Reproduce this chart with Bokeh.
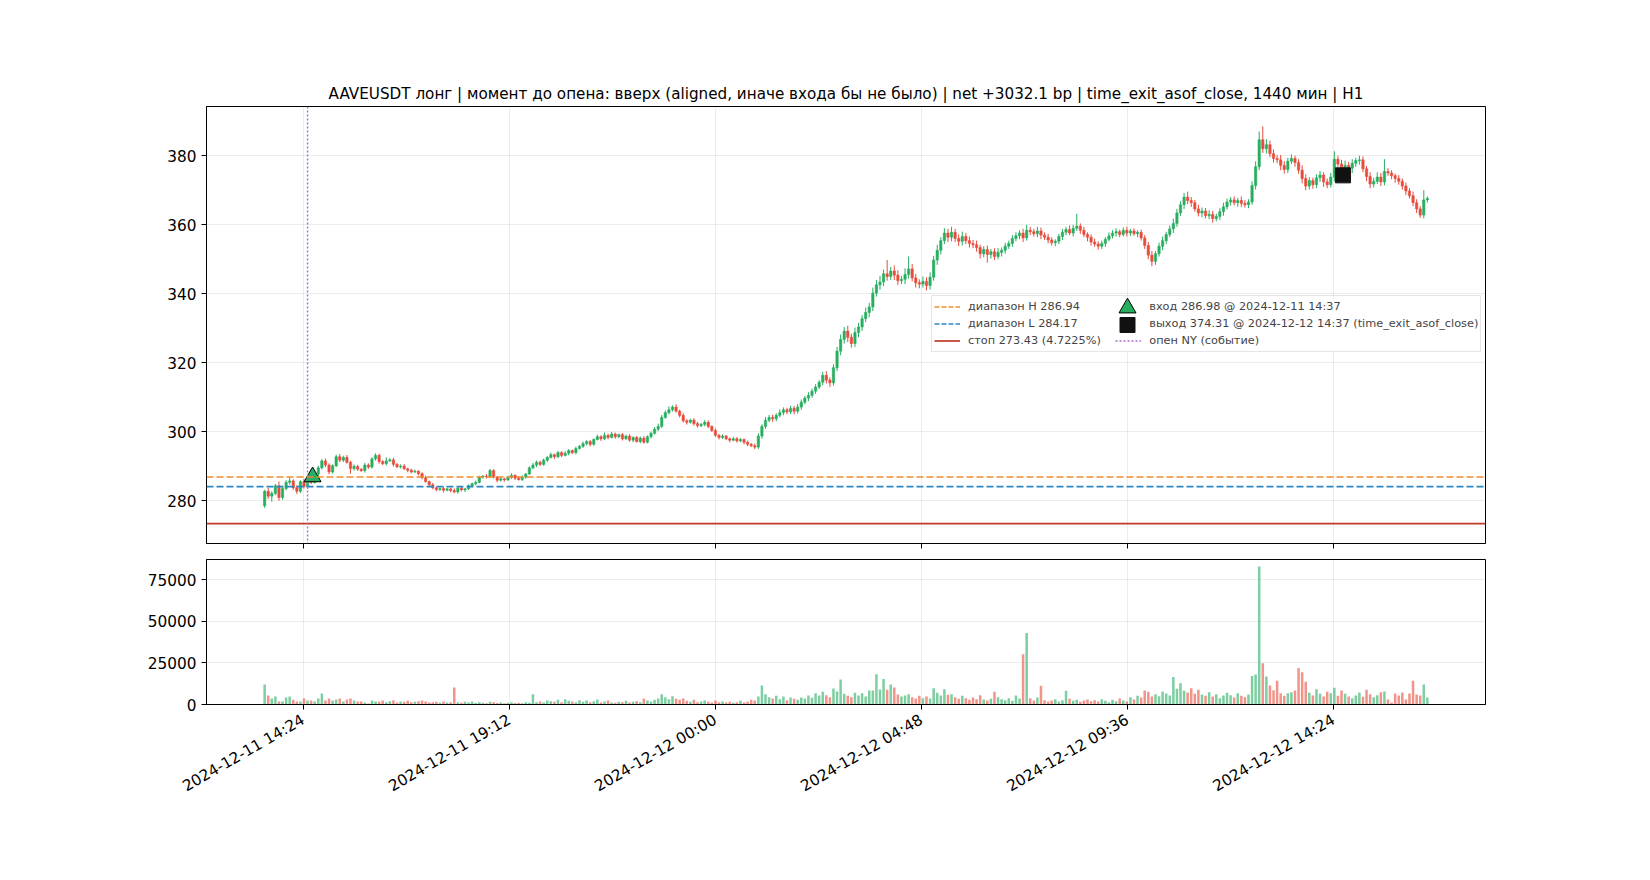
import math
import datetime as dt
import numpy as np
from bokeh.plotting import figure
from bokeh.layouts import column
from bokeh.models import (ColumnDataSource, FixedTicker, DatetimeTickFormatter, Range1d,
                          Legend, LegendItem, NumeralTickFormatter, Span, BoxAnnotation)
from bokeh.embed import file_html
from bokeh.resources import INLINE

chart_title = ("AAVEUSDT лонг | момент до опена: вверх (aligned, иначе входа бы не было) | "
               "net +3032.1 bp | time_exit_asof_close, 1440 мин | H1")

start_time = "2024-12-11 13:30"
bar_minutes = 5
first_open = 278.6

closes = [
    282.8, 281.4, 282.2, 284.4, 281.0, 283.6,                                          # 11th 13:30
    285.4, 285.8, 283.8, 282.8, 285.6, 284.2, 286.0, 285.4, 287.8, 289.6, 291.6, 290.4,  # 14
    288.4, 290.2, 292.8, 291.8, 292.6, 291.2, 289.4, 290.0, 289.2, 288.8, 290.4, 289.8,  # 15
    292.2, 293.2, 291.4, 290.8, 291.6, 291.9, 290.6, 289.9, 290.1, 289.3, 288.9, 288.4,  # 16
    288.6, 287.9, 286.7, 285.6, 284.7, 283.8, 283.3, 283.6, 283.1, 283.5, 283.0, 282.6,  # 17
    283.7, 283.2, 283.5, 284.4, 285.0, 285.4, 286.9, 287.2, 287.0, 288.8, 286.9, 286.0,  # 18
    286.4, 286.1, 286.8, 287.4, 286.6, 286.2, 286.9, 287.8, 289.6, 290.4, 291.2, 290.6,  # 19
    291.8, 292.6, 293.4, 292.8, 294.0, 293.2, 293.8, 294.6, 294.0, 295.2, 295.8, 296.6,  # 20
    297.2, 296.4, 297.8, 298.6, 298.0, 299.0, 298.4, 299.4, 298.6, 299.2, 298.0, 298.8,  # 21
    297.6, 298.4, 297.2, 298.2, 297.0, 298.6, 299.6, 300.8, 301.6, 304.2, 305.6, 306.4,  # 22
    307.2, 306.0, 304.8, 303.2, 302.8, 303.4, 302.4, 301.8, 302.2, 302.8, 301.6, 300.4,  # 23
    299.0, 298.4, 298.8, 298.0, 297.6, 298.0, 297.4, 297.8, 297.0, 296.4, 296.0, 295.6,  # 12th 00
    298.8, 301.6, 303.4, 304.2, 303.8, 304.8, 305.6, 306.4, 305.8, 306.8, 306.0, 307.2,  # 01
    308.6, 309.8, 310.6, 311.8, 313.0, 314.4, 316.4, 315.0, 314.2, 318.6, 323.4, 326.8,  # 02
    329.2, 327.4, 325.6, 328.8, 330.4, 332.8, 334.6, 336.2, 340.2, 342.6, 343.4, 345.8,  # 03
    345.0, 346.6, 345.4, 343.8, 344.2, 345.6, 347.2, 344.6, 343.2, 342.8, 343.6, 342.4,  # 04
    344.8, 349.8, 352.6, 355.4, 357.6, 356.4, 357.8, 356.0, 355.2, 356.6, 355.4, 354.6,  # 05
    354.2, 353.4, 351.6, 352.8, 351.4, 352.2, 350.8, 352.0, 352.6, 353.8, 354.6, 356.0,  # 06
    356.8, 357.6, 356.2, 358.4, 358.0, 357.4, 358.2, 357.0, 356.4, 355.6, 354.8, 355.2,  # 07
    356.6, 357.8, 358.6, 357.6, 359.0, 359.6, 358.4, 357.2, 356.4, 355.0, 354.4, 353.8,  # 08
    354.6, 355.8, 356.8, 357.6, 358.0, 357.2, 358.4, 357.6, 358.2, 357.4, 357.8, 356.2,  # 09
    354.0, 351.2, 349.4, 351.6, 353.8, 355.4, 357.2, 358.8, 360.4, 363.4, 365.8, 368.0,  # 10
    367.0, 366.4, 364.6, 363.4, 364.0, 362.6, 363.0, 361.8, 362.4, 363.8, 365.2, 366.6,  # 11
    367.2, 366.4, 367.0, 366.2, 365.8, 366.6, 371.4, 376.8, 384.6, 382.0, 383.2, 380.6,  # 12
    379.2, 378.8, 377.2, 376.0, 378.4, 379.2, 378.0, 375.8, 373.4, 371.2, 372.8, 371.6,  # 13
    373.6, 374.4, 372.4, 371.6, 373.8, 379.0, 377.6, 375.0, 377.2, 376.4, 377.8, 378.6,  # 14
    378.8, 376.2, 374.0, 371.8, 372.6, 373.8, 372.4, 375.4, 375.0, 374.2, 373.4, 372.6,  # 15
    371.2, 369.8, 368.4, 366.4, 364.6, 362.8, 367.2, 367.6,                              # 16
]

wick_up = [
    0.4, 1.0, 0.6, 0.5, 1.2, 0.8,
    0.6, 0.9, 0.5, 0.7, 0.4, 0.8, 0.5, 1.8, 0.4, 0.6, 0.5, 0.7,
    0.5, 0.4, 0.6, 0.8, 0.5, 0.7, 0.4, 0.6, 0.5, 0.3, 0.6, 0.5,
    0.4, 0.6, 0.5, 0.4, 1.0, 0.5, 0.6, 0.4, 0.5, 0.6, 0.3, 0.4,
    0.5, 0.3, 0.4, 0.6, 0.3, 0.5, 0.4, 0.3, 0.5, 0.4, 0.3, 0.6,
    0.4, 0.5, 0.3, 0.4, 0.3, 0.5, 0.4, 0.3, 0.6, 0.5, 0.4, 0.3,
    0.4, 0.3, 0.5, 0.6, 0.3, 0.4, 0.5, 0.3, 0.4, 0.6, 0.5, 0.4,
    0.5, 0.4, 0.6, 0.3, 0.5, 0.4, 0.6, 0.4, 0.3, 0.5, 0.4, 0.6,
    0.4, 0.5, 0.3, 0.6, 0.4, 0.8, 0.5, 0.6, 0.4, 0.3, 0.5, 0.4,
    0.5, 0.3, 0.4, 0.5, 0.6, 0.4, 0.5, 0.6, 0.8, 0.7, 0.6, 1.0,
    0.5, 0.8, 0.4, 0.6, 0.5, 0.4, 0.6, 0.5, 0.4, 0.6, 0.5, 0.3,
    0.6, 0.4, 0.5, 0.3, 0.4, 0.6, 0.5, 0.4, 0.3, 0.5, 0.4, 0.6,
    0.8, 0.6, 0.9, 0.7, 0.8, 0.6, 0.9, 0.7, 0.6, 0.8, 0.7, 0.9,
    0.8, 0.6, 0.9, 0.7, 0.8, 0.6, 1.0, 1.2, 0.8, 1.0, 1.2, 1.4,
    1.2, 1.6, 1.0, 1.4, 1.2, 1.0, 1.4, 1.2, 1.6, 1.4, 1.8, 1.2,
    4.0, 1.2, 1.6, 1.4, 1.0, 1.8, 3.6, 1.4, 1.2, 1.0, 1.4, 1.2,
    1.4, 1.2, 1.6, 1.0, 1.4, 1.2, 1.6, 1.0, 1.2, 1.4, 1.0, 1.2,
    1.0, 1.2, 0.8, 1.0, 1.2, 0.8, 1.0, 1.2, 0.8, 1.0, 0.8, 1.0,
    1.0, 0.8, 1.2, 1.6, 1.0, 0.8, 1.2, 1.0, 0.8, 1.0, 0.8, 0.6,
    0.8, 1.0, 0.8, 1.2, 1.0, 3.6, 0.8, 1.0, 0.6, 0.8, 1.0, 0.8,
    0.8, 0.6, 1.0, 0.8, 1.0, 0.6, 0.8, 1.0, 0.6, 0.8, 0.6, 0.8,
    0.8, 1.0, 1.2, 0.8, 1.0, 1.2, 0.8, 1.0, 1.4, 1.2, 1.0, 1.2,
    1.6, 1.0, 0.8, 1.2, 1.0, 0.8, 1.2, 1.0, 0.8, 1.0, 1.2, 1.0,
    0.8, 1.0, 0.8, 1.2, 1.0, 0.8, 1.2, 1.6, 2.4, 3.9, 1.6, 1.2,
    1.2, 1.0, 1.4, 1.2, 1.0, 1.2, 0.8, 1.0, 1.4, 1.2, 1.0, 0.8,
    1.0, 1.2, 0.8, 1.0, 1.2, 2.3, 1.0, 1.2, 1.4, 1.0, 1.2, 0.8,
    1.2, 1.0, 0.8, 1.2, 1.0, 1.4, 1.2, 3.6, 1.0, 0.8, 0.6, 1.0,
    0.8, 1.0, 0.8, 1.2, 1.0, 0.8, 2.8, 0.6,
]

wick_dn = [
    0.6, 0.8, 1.6, 0.5, 0.9, 0.6,
    0.5, 0.7, 0.6, 0.8, 0.5, 0.6, 0.7, 0.5, 0.4, 0.6, 0.5, 0.6,
    0.7, 0.5, 0.4, 0.6, 0.5, 0.4, 1.5, 0.6, 0.5, 0.4, 0.6, 0.5,
    0.4, 0.5, 0.6, 0.4, 0.5, 0.3, 0.6, 0.4, 0.5, 0.3, 0.6, 0.4,
    0.3, 0.5, 0.4, 0.3, 0.6, 0.4, 0.5, 0.4, 0.6, 0.3, 0.5, 0.4,
    0.5, 0.4, 0.6, 0.3, 0.4, 0.5, 0.3, 0.4, 0.5, 0.3, 0.4, 0.6,
    0.4, 0.5, 0.3, 0.4, 0.5, 0.3, 0.4, 0.5, 0.3, 0.4, 0.6, 0.5,
    0.4, 0.5, 0.3, 0.6, 0.4, 0.5, 0.3, 0.6, 0.4, 0.5, 0.3, 0.4,
    0.5, 0.6, 0.4, 0.3, 0.6, 0.4, 0.5, 0.3, 0.6, 0.4, 0.5, 0.3,
    0.4, 0.6, 0.3, 0.5, 0.4, 0.3, 0.5, 0.4, 0.6, 0.5, 0.4, 0.6,
    0.5, 0.4, 0.6, 0.5, 0.7, 0.4, 0.6, 0.5, 0.4, 0.6, 0.5, 0.4,
    0.4, 0.6, 0.5, 0.4, 0.6, 0.3, 0.5, 0.4, 0.6, 0.5, 0.4, 0.6,
    0.6, 0.8, 0.7, 0.6, 0.9, 0.7, 0.6, 0.8, 0.7, 0.6, 0.9, 0.7,
    0.8, 0.6, 0.9, 0.7, 0.8, 0.6, 0.9, 1.0, 1.2, 0.8, 1.0, 1.2,
    1.2, 1.4, 1.2, 1.0, 1.4, 1.2, 1.0, 1.4, 1.2, 1.0, 1.4, 1.2,
    1.2, 1.0, 1.4, 1.2, 1.0, 1.4, 1.2, 1.0, 1.4, 1.2, 1.0, 1.4,
    1.2, 1.0, 1.4, 1.2, 1.0, 1.4, 1.2, 1.0, 1.4, 1.2, 1.0, 1.2,
    1.0, 1.2, 1.4, 1.0, 2.4, 1.2, 1.0, 0.8, 1.2, 1.0, 0.8, 1.0,
    0.8, 1.0, 1.2, 0.8, 1.0, 0.8, 1.0, 1.2, 0.8, 1.0, 0.8, 1.0,
    0.8, 1.0, 0.8, 0.6, 1.0, 0.8, 1.0, 0.8, 1.2, 1.0, 0.8, 1.0,
    0.8, 1.0, 0.6, 0.8, 1.0, 0.8, 0.6, 1.0, 0.8, 0.6, 1.0, 0.8,
    1.0, 1.2, 1.4, 1.0, 0.8, 1.2, 1.0, 0.8, 1.2, 1.0, 0.8, 1.2,
    1.0, 1.2, 0.8, 1.0, 1.2, 0.8, 1.0, 1.2, 0.8, 1.0, 1.2, 0.8,
    1.0, 0.8, 1.2, 1.0, 0.8, 1.0, 0.8, 1.2, 1.0, 1.2, 1.4, 1.0,
    1.2, 1.0, 1.4, 1.2, 1.0, 0.8, 1.2, 1.0, 1.4, 1.2, 1.0, 1.2,
    1.0, 1.2, 1.4, 1.0, 0.8, 1.2, 1.0, 0.8, 1.2, 1.0, 1.4, 1.0,
    1.2, 1.0, 1.4, 1.2, 1.0, 0.8, 1.2, 1.0, 0.8, 1.0, 1.2, 1.0,
    1.0, 1.2, 0.8, 1.0, 1.2, 0.8, 1.0, 0.8,
]

volumes = [
    12000, 5400, 3600, 4800, 1800, 1800,
    4200, 4800, 2800, 1800, 1800, 3600, 2400, 2400, 1800, 3600, 6600, 2400,
    3600, 2400, 3000, 3600, 1800, 3000, 3600, 2400, 1800, 1800, 1200, 600,
    2400, 1800, 1600, 2400, 1400, 2000, 2600, 1200, 1800, 1600, 2200, 1400,
    1600, 2000, 2400, 1800, 1200, 1400, 1600, 1000, 1800, 1200, 1400, 10200,
    1400, 1000, 1600, 1200, 1800, 900, 1400, 1100, 800, 1600, 1300, 900,
    1200, 800, 1000, 1400, 900, 1100, 700, 1300, 1000, 6200, 1400, 1800,
    1200, 2400, 2000, 1600, 2800, 1400, 3200, 2200, 1800, 1200, 2600, 1600,
    2400, 1400, 2000, 3000, 1200, 1800, 2400, 1200, 1000, 1600, 1400, 2200,
    1200, 1600, 2000, 1400, 3600, 2400, 1800, 2800, 3600, 6200, 4400, 3200,
    5000, 3400, 2800, 3600, 2200, 1600, 2800, 1400, 1800, 2400, 1600, 1200,
    2400, 1400, 1800, 1200, 1600, 1000, 1400, 2200, 1200, 1600, 2800, 2400,
    4800, 11400, 6200, 4400, 3600, 5200, 3200, 4800, 2600, 4200, 3400, 2800,
    4200, 3600, 5400, 4000, 6800, 5400, 7600, 5600, 4400, 9600, 7800, 15000,
    6400, 5200, 4400, 7000, 5400, 6800, 4800, 8400, 8400, 18200, 9000, 15400,
    8800, 12000, 10200, 6000, 4800, 5400, 6200, 4400, 3600, 5200, 3800, 4800,
    3600, 9800, 7000, 5400, 9200, 5800, 6200, 4400, 3400, 5200, 3800, 2800,
    4200, 3200, 5600, 3000, 2400, 3400, 7600, 4400, 3200, 2600, 3800, 2200,
    5400, 3600, 30200, 43000, 3800, 2400, 4200, 11200, 2600, 1800, 2400, 3200,
    1800, 2600, 8200, 3400, 2200, 2800, 1600, 2400, 3000, 2000, 2600, 1800,
    3200, 2200, 1400, 2800, 2000, 3600, 2400, 1800, 4400, 3000, 5200, 4200,
    8400, 7600, 4800, 6200, 5000, 7800, 6600, 5400, 16600, 9400, 12800, 8200,
    7200, 9800, 6400, 8800, 6000, 5200, 7400, 4800, 6200, 3800, 5400, 7000,
    5600, 4200, 6800, 5200, 4400, 6000, 17200, 18000, 83000, 24800, 16800, 11400,
    8600, 14200, 6800, 5200, 6800, 7400, 8400, 22000, 19400, 13600, 7000, 5400,
    9200, 6400, 4800, 7600, 6800, 10000, 5200, 8400, 6400, 4800, 3800, 5400,
    7200, 4600, 8800, 6200, 4400, 5600, 7400, 7800, 3000, 1200, 6600, 5400,
    7200, 3000, 6600, 14300, 6000, 5400, 12000, 4200,
]

range_high = 286.94
range_low = 284.17
stop_price = 273.43
entry_time = "2024-12-11 14:37"
entry_price = 286.98
exit_time = "2024-12-12 14:37"
exit_price = 374.31
ny_open_time = "2024-12-11 14:30"

legend_labels = [
    "диапазон H 286.94",
    "диапазон L 284.17",
    "стоп 273.43 (4.7225%)",
    "вход 286.98 @ 2024-12-11 14:37",
    "выход 374.31 @ 2024-12-12 14:37 (time_exit_asof_close)",
    "опен NY (событие)",
]

x_tick_labels = ["2024-12-11 14:24", "2024-12-11 19:12", "2024-12-12 00:00",
                 "2024-12-12 04:48", "2024-12-12 09:36", "2024-12-12 14:24"]
price_ticks = [280, 300, 320, 340, 360, 380]
volume_ticks = [0, 25000, 50000, 75000]

# ---------------------------------------------------------------------------
FONT = "DejaVu Sans"
TICK_FS = "15.3px"
UP = "#27ae60"
DOWN = "#e74c3c"
C_H = "#ef8a2e"
C_L = "#2b86c3"
C_STOP = "#c0392b"
C_NY = "#a86ccc"
EPOCH = dt.datetime(1970, 1, 1)


def to_ms(s):
    return (dt.datetime.strptime(s, "%Y-%m-%d %H:%M") - EPOCH).total_seconds() * 1000.0


n = len(closes)
assert len(wick_up) == n and len(wick_dn) == n and len(volumes) == n
bar_ms = bar_minutes * 60 * 1000.0
x = np.array([to_ms(start_time) + k * bar_ms for k in range(n)])
c = np.array(closes)
o = np.array([first_open] + closes[:-1])
body_top = np.maximum(o, c)
body_bot = np.minimum(o, c)
high = body_top + np.array(wick_up)
low = body_bot - np.array(wick_dn)
colors = [UP if cc >= oo else DOWN for oo, cc in zip(o, c)]

src = ColumnDataSource(dict(x=x, top=body_top, bottom=body_bot, high=high, low=low,
                            color=colors, vol=volumes))

span_x = x[-1] - x[0]
x0r, x1r = x[0] - 0.05 * span_x, x[-1] + 0.05 * span_x
x_range = Range1d(x0r, x1r)
lo = min(low.min(), stop_price)
hi = high.max()
pad = 0.05 * (hi - lo)
y0r, y1r = lo - pad, hi + pad
y_range = Range1d(y0r, y1r)

x_ticks = [to_ms(s) for s in x_tick_labels]
fmt = "%Y-%m-%d %H:%M"
dt_formatter = DatetimeTickFormatter(
    microseconds=fmt, milliseconds=fmt, seconds=fmt, minsec=fmt, minutes=fmt,
    hourmin=fmt, hours=fmt, days=fmt, months=fmt, years=fmt, strip_leading_zeros=False)

FRAME_W = 1279
FRAME_H = 437
LEFT = 206
RIGHT = 150


def style_axes(fig):
    for ax in (fig.xaxis[0], fig.yaxis[0]):
        ax.axis_line_color = "black"
        ax.major_tick_line_color = "black"
        ax.major_tick_out = 5
        ax.major_tick_in = 0
        ax.minor_tick_out = 0
        ax.minor_tick_in = 0
        ax.major_label_text_font = FONT
        ax.major_label_text_font_size = TICK_FS
        ax.major_label_text_color = "black"
        ax.major_label_standoff = 5
    fig.outline_line_color = "black"
    fig.outline_line_width = 1
    fig.outline_line_alpha = 1
    for g in (fig.xgrid[0], fig.ygrid[0]):
        g.grid_line_color = "#b0b0b0"
        g.grid_line_alpha = 0.3
        g.grid_line_width = 0.8
    fig.background_fill_color = "white"
    fig.border_fill_color = "white"


def px_to_x(px):          # frame px from left -> data x
    return x0r + px / FRAME_W * (x1r - x0r)


def px_to_y(px):          # frame px from top -> data y
    return y1r - px / FRAME_H * (y1r - y0r)


# ---------------- main price panel ----------------
p = figure(x_axis_type="datetime", x_range=x_range, y_range=y_range,
           frame_width=FRAME_W, frame_height=FRAME_H,
           min_border_left=LEFT, min_border_right=RIGHT, min_border_top=106, min_border_bottom=16,
           output_backend="svg", toolbar_location=None, title=chart_title)
p.title.text_font = FONT
p.title.text_font_size = "15.2px"
p.title.text_font_style = "normal"
p.title.align = "center"
p.title.text_color = "black"
p.title.standoff = 8
style_axes(p)
p.xaxis[0].ticker = FixedTicker(ticks=x_ticks)
p.xaxis[0].major_label_overrides = {t: "" for t in x_ticks}
p.xaxis[0].major_label_text_font_size = "1px"
p.xaxis[0].major_label_standoff = 0
p.yaxis[0].ticker = FixedTicker(ticks=price_ticks)

# legend geometry (screen px, relative to the price frame)
NBSP = "\u00a0"
LEG_X, LEG_Y = 725, 191          # legend bottom-left, px from frame bottom-left
LEG_PAD, ROW_H, GLYPH_W, STANDOFF = 2, 17, 26, 8
COL1_W = GLYPH_W + STANDOFF + 147
LEG_W = 552
LEG_H = 2 * LEG_PAD + 3 * ROW_H
leg_top_px = FRAME_H - (LEG_Y + LEG_H)

# opaque white panel under the legend (hides the grid there, like a legend frame)
p.add_layout(BoxAnnotation(left=px_to_x(LEG_X + 1), right=px_to_x(LEG_X + LEG_W - 1),
                           top=px_to_y(leg_top_px + 1), bottom=px_to_y(leg_top_px + LEG_H - 1),
                           fill_color="white", fill_alpha=1.0, line_alpha=0, level="underlay"))

p.segment(x0="x", y0="low", x1="x", y1="high", line_color="color", line_width=1, source=src)
p.vbar(x="x", width=bar_ms * 0.65, top="top", bottom="bottom", fill_color="color",
       line_color="color", line_width=0.6, source=src)

p.add_layout(Span(location=range_high, dimension="width", line_color=C_H, line_width=1.7,
                  line_dash="7 3"))
p.add_layout(Span(location=range_low, dimension="width", line_color=C_L, line_width=1.7,
                  line_dash="7 3"))
p.add_layout(Span(location=stop_price, dimension="width", line_color=C_STOP, line_width=1.7))
p.add_layout(Span(location=to_ms(ny_open_time), dimension="height", line_color=C_NY,
                  line_width=1.4, line_dash="2 2"))

p.scatter(x=[to_ms(entry_time)], y=[entry_price], marker="triangle", size=17,
          fill_color=UP, line_color="black", line_width=1)
p.scatter(x=[to_ms(exit_time)], y=[exit_price], marker="square", size=15,
          fill_color="#111111", line_color="#111111", line_width=1)

# legend proxies (one point each, draw nothing visible in the plot)
l_h = p.line(x=[x[0]], y=[range_high], line_color=C_H, line_width=1.7, line_dash="5 2")
l_l = p.line(x=[x[0]], y=[range_low], line_color=C_L, line_width=1.7, line_dash="5 2")
l_s = p.line(x=[x[0]], y=[stop_price], line_color=C_STOP, line_width=1.7)
l_ny = p.line(x=[x[0]], y=[range_high], line_color=C_NY, line_width=1.4, line_dash="2 2")
m_in = p.scatter(x=[to_ms(entry_time)], y=[entry_price], marker="triangle", size=1,
                 fill_alpha=0, line_alpha=0)
m_out = p.scatter(x=[to_ms(exit_time)], y=[exit_price], marker="square", size=1,
                  fill_alpha=0, line_alpha=0)

legend = Legend(items=[
    LegendItem(label=legend_labels[0], renderers=[l_h]),
    LegendItem(label=legend_labels[1], renderers=[l_l]),
    LegendItem(label=legend_labels[2] + NBSP * 4, renderers=[l_s]),
    LegendItem(label=legend_labels[3], renderers=[m_in]),
    LegendItem(label=legend_labels[4], renderers=[m_out]),
    LegendItem(label=legend_labels[5], renderers=[l_ny]),
], location=(LEG_X, LEG_Y), orientation="vertical", ncols=2)
legend.label_text_font = FONT
legend.label_text_font_size = "11.3px"
legend.label_height = ROW_H
legend.glyph_height = ROW_H
legend.glyph_width = GLYPH_W
legend.label_standoff = STANDOFF
legend.spacing = 0
legend.padding = LEG_PAD
legend.margin = 0
legend.border_line_color = "#cccccc"
legend.border_line_width = 1
legend.background_fill_alpha = 0
p.add_layout(legend)

# big legend markers in the legend's second column (legend layout -> data units)
mk_x = px_to_x(LEG_X + LEG_PAD + COL1_W + GLYPH_W / 2)
mk_y = [px_to_y(leg_top_px + LEG_PAD + ROW_H * (k + 0.5)) for k in range(2)]
p.scatter(x=[mk_x], y=[mk_y[0]], marker="triangle", size=17, fill_color=UP,
          line_color="black", line_width=1)
p.scatter(x=[mk_x], y=[mk_y[1]], marker="square", size=15, fill_color="#111111",
          line_color="#111111", line_width=1)

# ---------------- volume panel ----------------
v = figure(x_axis_type="datetime", x_range=x_range, y_range=Range1d(0, max(volumes) * 1.05),
           frame_width=FRAME_W, frame_height=145,
           min_border_left=LEFT, min_border_right=RIGHT, min_border_top=0, min_border_bottom=100,
           output_backend="svg", toolbar_location=None)
style_axes(v)
v.xaxis[0].ticker = FixedTicker(ticks=x_ticks)
v.xaxis[0].formatter = dt_formatter
v.xaxis[0].major_label_orientation = math.pi / 6
v.xaxis[0].major_label_standoff = 9
v.yaxis[0].ticker = FixedTicker(ticks=volume_ticks)
v.yaxis[0].formatter = NumeralTickFormatter(format="0")
v.vbar(x="x", width=bar_ms * 0.7, top="vol", bottom=0, fill_color="color", fill_alpha=0.6,
       line_alpha=0, source=src)

layout = column(p, v, spacing=0)
open("out.html", "w").write(file_html(layout, INLINE))
